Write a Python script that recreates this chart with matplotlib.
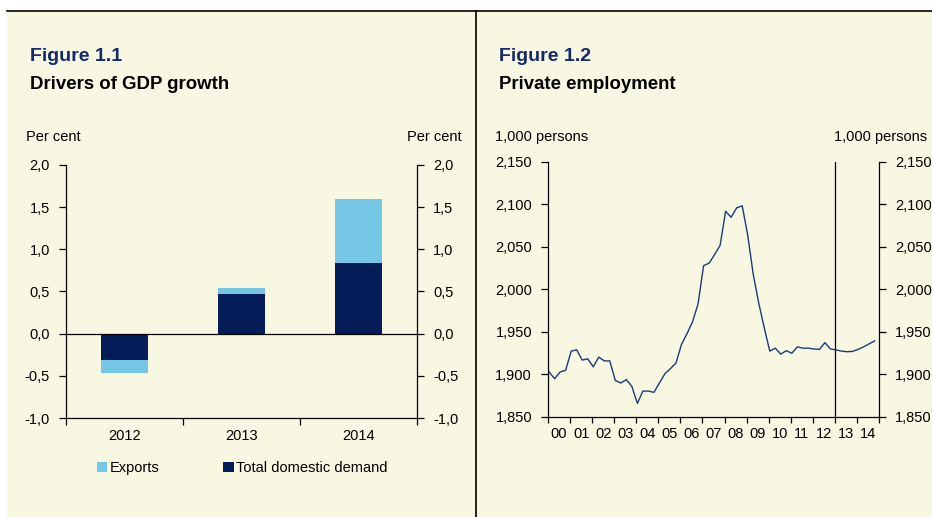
import numpy as np
import matplotlib
matplotlib.use('Agg')
import matplotlib.pyplot as plt
from matplotlib.patches import Rectangle
from matplotlib.lines import Line2D
from matplotlib.ticker import FixedLocator, FuncFormatter

plt.rcParams['font.family'] = ['Liberation Sans', 'DejaVu Sans']

# Figure 1.1 data: contributions to GDP growth, per cent
years = ['2012', '2013', '2014']
domestic = [-0.31, 0.47, 0.84]
exports = [-0.16, 0.07, 0.76]

# Figure 1.2 data: private employment, 1,000 persons, quarterly 2000Q1-2012Q4
employment = [1903, 1895, 1903, 1905, 1927.5, 1929, 1917, 1918.5,
              1909, 1920.5, 1916, 1916, 1893, 1890, 1894, 1886,
              1866, 1880.5, 1880.5, 1879, 1890, 1901, 1907, 1913.5,
              1935.5, 1948, 1962, 1983, 2028, 2031, 2041, 2052,
              2092, 2085, 2096, 2098.5, 2064, 2018, 1984, 1955,
              1927.5, 1931, 1924, 1928, 1925, 1932.5, 1931, 1931,
              1930, 1929.5, 1937.5, 1930]
# projection 2013Q1-2014Q4
projection = [1929, 1927.5, 1926.8, 1927.2, 1929.5, 1932.5, 1936, 1939.5]
year_labels = ['00', '01', '02', '03', '04', '05', '06', '07',
               '08', '09', '10', '11', '12', '13', '14']

W, H = 932, 517
beige = '#f8f7e2'
navy = '#041c58'
light = '#76c6e6'
title_blue = '#13296b'
fs = 10.5

fig = plt.figure(figsize=(W / 100, H / 100), dpi=100)
fig.patch.set_facecolor('white')
fig.patches.append(Rectangle((7 / W, 0), (W - 7) / W, (H - 11) / H,
                             transform=fig.transFigure, facecolor=beige,
                             edgecolor='none', zorder=-10))
fig.lines.append(Line2D([7 / W, 1], [1 - 11 / H, 1 - 11 / H], transform=fig.transFigure,
                        color='black', lw=1.2))
fig.lines.append(Line2D([476 / W, 476 / W], [0, 1 - 11 / H], transform=fig.transFigure,
                        color='black', lw=1.2))


def fy(py):
    return 1 - py / H


# headings
fig.text(30 / W, fy(60.7), 'Figure 1.1', color=title_blue, fontsize=14, fontweight='bold')
fig.text(30 / W, fy(89.3), 'Drivers of GDP growth', color='black', fontsize=13.4, fontweight='bold')
fig.text(499 / W, fy(60.7), 'Figure 1.2', color=title_blue, fontsize=14, fontweight='bold')
fig.text(499 / W, fy(89.3), 'Private employment', color='black', fontsize=13.4, fontweight='bold')

fig.text(26 / W, fy(140.7), 'Per cent', fontsize=fs)
fig.text(462 / W, fy(140.7), 'Per cent', fontsize=fs, ha='right')
fig.text(495 / W, fy(141), '1,000 persons', fontsize=fs)
fig.text(927 / W, fy(141), '1,000 persons', fontsize=fs, ha='right')

# ---- Figure 1.1: stacked bars ----
ax1 = fig.add_axes([66 / W, fy(418), 351 / W, 253 / H])
ax1.set_facecolor('none')
x = np.arange(len(years))
ax1.bar(x, domestic, width=0.4, color=navy, label='Total domestic demand', zorder=2)
ax1.bar(x, exports, width=0.4, bottom=domestic, color=light, label='Exports', zorder=2)
ax1.axhline(0, color='black', lw=0.9, zorder=3)
ax1.set_xlim(-0.5, 2.5)
ax1.set_ylim(-1.0, 2.0)
ax1.spines['top'].set_visible(False)
for s in ['left', 'right', 'bottom']:
    ax1.spines[s].set_linewidth(0.9)
ax1.xaxis.set_major_locator(FixedLocator([-0.5, 0.5, 1.5, 2.5]))
ax1.xaxis.set_minor_locator(FixedLocator(x))
ax1.set_xticklabels([], minor=False)
ax1.set_xticklabels(years, minor=True)
ax1.tick_params(axis='x', which='major', direction='out', length=5, width=0.9)
ax1.tick_params(axis='x', which='minor', length=0, pad=8, labelsize=fs)
ax1.set_yticks(np.arange(-1.0, 2.01, 0.5))
ax1.yaxis.set_major_formatter(FuncFormatter(lambda v, p: '{:.1f}'.format(v).replace('.', ',')))
ax1.tick_params(axis='y', direction='out', length=5, width=0.9, pad=6.5, labelsize=fs,
                left=True, right=True, labelleft=True, labelright=True)

handles, labels = ax1.get_legend_handles_labels()
ax1.legend(handles[::-1], labels[::-1], loc='center left', ncol=2, frameon=False,
           bbox_to_anchor=(97 / W, fy(468)), bbox_transform=fig.transFigure,
           fontsize=fs, handlelength=0.7, handleheight=0.7, handletextpad=0.15,
           columnspacing=4.4, borderpad=0, borderaxespad=0)

# ---- Figure 1.2: employment line ----
ax2 = fig.add_axes([548 / W, fy(417), 331 / W, 255 / H])
ax2.set_facecolor('none')
t = 2000 + (np.arange(len(employment) + len(projection)) + 0.2) / 4
series = employment + projection
ax2.plot(t, series, color='#1c3a7c', lw=1.0, zorder=3)
ax2.axvline(2013, color='black', lw=0.9, zorder=2)
ax2.set_xlim(2000, 2015)
ax2.set_ylim(1850, 2150)
ax2.spines['top'].set_visible(False)
for s in ['left', 'right', 'bottom']:
    ax2.spines[s].set_linewidth(0.9)
ax2.xaxis.set_major_locator(FixedLocator(np.arange(2000, 2016)))
ax2.xaxis.set_minor_locator(FixedLocator(np.arange(2000, 2015) + 0.5))
ax2.set_xticklabels([], minor=False)
ax2.set_xticklabels(year_labels, minor=True)
ax2.tick_params(axis='x', which='major', direction='out', length=4, width=0.9)
ax2.tick_params(axis='x', which='minor', length=0, pad=7, labelsize=fs)
ax2.set_yticks(np.arange(1850, 2151, 50))
ax2.yaxis.set_major_formatter(FuncFormatter(lambda v, p: '{:,.0f}'.format(v)))
ax2.tick_params(axis='y', direction='out', length=5, width=0.9, pad=6.5, labelsize=fs,
                left=True, right=True, labelleft=True, labelright=True)

fig.savefig('out.png', dpi=100)
